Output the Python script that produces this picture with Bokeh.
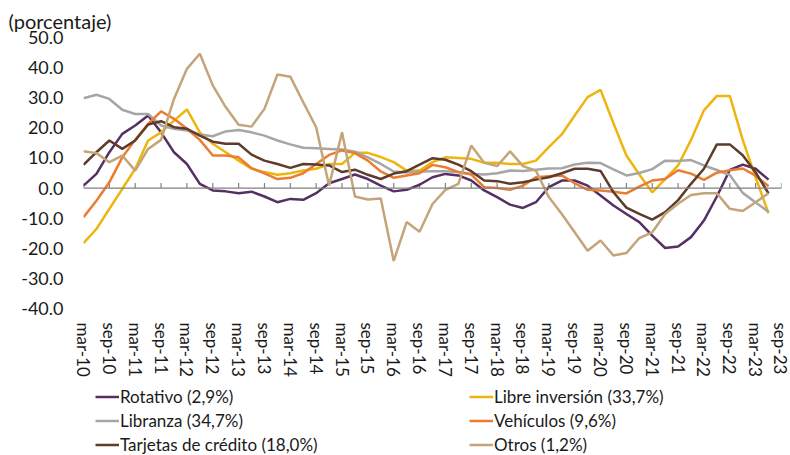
import numpy as np
from bokeh.plotting import figure
from bokeh.layouts import column
from bokeh.models import (Range1d, LinearAxis, FixedTicker, PrintfTickFormatter,
                          Legend, LegendItem, ColumnDataSource, Span)
from bokeh.embed import file_html
from bokeh.resources import INLINE

# ---------------- data (quarterly, mar-10 .. jun-23) ----------------
tick_labels = ["mar-10", "sep-10", "mar-11", "sep-11", "mar-12", "sep-12", "mar-13",
               "sep-13", "mar-14", "sep-14", "mar-15", "sep-15", "mar-16", "sep-16",
               "mar-17", "sep-17", "mar-18", "sep-18", "mar-19", "sep-19", "mar-20",
               "sep-20", "mar-21", "sep-21", "mar-22", "sep-22", "mar-23", "sep-23"]

rotativo = [0.8, 4.7, 11.9, 18.0, 20.8, 24.1, 18.5, 11.9, 8.0, 1.4,
            -0.8, -1.1, -1.7, -1.2, -2.8, -4.7, -3.6, -3.9, -1.7, 1.6,
            3.0, 4.5, 3.0, 0.8, -1.1, -0.6, 1.1, 3.6, 4.7, 4.2,
            2.5, -0.8, -3.0, -5.5, -6.6, -4.7, 0.3, 2.5, 2.5, 0.8,
            -2.5, -5.8, -8.6, -11.3, -15.8, -19.9, -19.4, -16.3, -10.8, -2.8,
            6.0, 7.8, 6.4, 2.8]
libre = [-18.3, -13.6, -6.9, -0.3, 6.4, 15.8, 18.5, 22.4, 26.1, 18.5,
         14.7, 11.9, 9.1, 6.4, 5.3, 4.4, 4.9, 5.8, 6.4, 8.0,
         8.0, 11.7, 11.7, 10.3, 8.6, 5.8, 5.8, 8.6, 10.2, 10.0,
         9.7, 8.4, 8.4, 8.0, 8.0, 9.1, 13.6, 17.8, 24.1, 30.2,
         32.6, 21.5, 10.8, 4.5, -1.4, 3.0, 7.5, 16.0, 25.8, 30.6,
         30.6, 16.0, 3.5, -8.4]
libranza = [29.8, 31.0, 29.6, 26.0, 24.6, 24.6, 20.8, 19.7, 19.1, 17.8,
            17.2, 18.8, 19.3, 18.5, 17.4, 15.8, 14.5, 13.4, 13.2, 13.0,
            12.8, 12.1, 10.2, 8.0, 5.5, 5.2, 5.5, 5.6, 5.6, 5.3,
            4.7, 4.5, 4.9, 5.8, 5.7, 6.1, 6.5, 6.6, 7.8, 8.4,
            8.3, 6.2, 4.2, 5.0, 6.3, 9.1, 9.0, 9.3, 7.5, 6.0,
            4.3, -1.6, -4.8, -7.9]
vehiculos = [-9.7, -4.2, 1.9, 10.2, 16.0, 21.3, 25.5, 23.0, 19.7, 16.0,
             10.8, 10.8, 10.2, 6.6, 4.9, 3.0, 3.4, 4.9, 8.0, 11.0,
             12.5, 11.6, 9.1, 5.5, 3.4, 4.2, 4.9, 7.7, 6.9, 5.3,
             4.5, 0.3, 0.0, -0.6, 0.8, 3.6, 3.9, 4.2, 1.6, -0.6,
             -0.8, -1.2, -1.8, 0.5, 2.5, 3.0, 5.9, 4.8, 2.7, 5.1,
             5.9, 6.5, 4.1, 0.6]
tarjetas = [7.7, 11.9, 15.8, 13.0, 15.8, 21.1, 22.2, 20.2, 19.7, 17.4,
            15.4, 14.7, 14.7, 11.1, 9.1, 8.0, 6.7, 8.0, 7.8, 7.5,
            5.3, 6.1, 4.4, 3.0, 4.8, 5.6, 7.8, 9.9, 9.4, 7.8,
            5.6, 2.5, 2.3, 1.4, 1.9, 2.8, 3.6, 4.9, 6.4, 6.4,
            5.7, -1.4, -6.5, -8.6, -10.5, -8.0, -4.0, 1.4, 6.4, 14.5,
            14.5, 10.9, 5.2, -1.8]
otros = [12.2, 11.6, 8.6, 10.8, 5.8, 13.0, 16.0, 29.6, 39.6, 44.6,
         34.1, 26.9, 21.0, 20.4, 26.3, 37.7, 37.0, 28.5, 20.2, 0.8,
         18.5, -2.8, -3.8, -3.5, -24.2, -11.3, -14.5, -5.3, -0.6, 1.4,
         14.1, 8.4, 7.3, 12.2, 7.3, 5.8, -3.0, -8.6, -14.7, -20.8,
         -17.4, -22.4, -21.6, -16.6, -14.7, -8.6, -5.2, -2.3, -1.7, -1.7,
         -6.9, -7.6, -4.7, -1.7]

series_labels = ["Rotativo (2,9%)", "Libre inversión (33,7%)", "Libranza (34,7%)",
                 "Vehículos (9,6%)", "Tarjetas de crédito (18,0%)", "Otros (1,2%)"]
series_values = [rotativo, libre, libranza, vehiculos, tarjetas, otros]
series_colors = ["#553063", "#EFB50F", "#A6A6A6", "#EC7C30", "#5E3B2A", "#C4A57A"]

y_ticks = [-40, -30, -20, -10, 0, 10, 20, 30, 40, 50]

FONT = "Lato"
TXT = "#1a1a1a"
AXIS_GRAY = "#808080"
n_cat = 2 * len(tick_labels) - 1  # 55 quarterly categories
Y_MIN, Y_MAX = -40, 50
FRAME_H = 271  # px
LINE_W = 2.5

# ---------------- main chart ----------------
p = figure(width=790, height=385, output_backend="svg", toolbar_location=None,
           x_range=Range1d(0, n_cat - 1), y_range=Range1d(Y_MIN, Y_MAX),
           x_axis_location=None,
           min_border_left=83, min_border_right=9, min_border_top=37,
           min_border_bottom=77)
p.outline_line_color = None
p.xgrid.visible = False
p.ygrid.visible = False

p.title.text = "(porcentaje)"
p.title.text_font = FONT
p.title.text_font_size = "20px"
p.title.text_font_style = "normal"
p.title.text_color = TXT
p.title.align = "left"
p.title.offset = -75
p.title.standoff = 9

yax = p.yaxis[0]
yax.ticker = FixedTicker(ticks=y_ticks)
yax.formatter = PrintfTickFormatter(format="%.1f")
yax.axis_line_color = None
yax.major_tick_line_color = None
yax.minor_tick_line_color = None
yax.major_tick_out = 0
yax.major_tick_in = 0
yax.major_label_standoff = 20
yax.major_label_text_font = FONT
yax.major_label_text_font_size = "18px"
yax.major_label_text_color = TXT

# zero line with small upward tick marks every semester
tick_pos = list(range(0, n_cat, 2))
p.add_layout(Span(location=0, dimension="width", line_color=AXIS_GRAY, line_width=1.2))
tick_len = 5 * (Y_MAX - Y_MIN) / FRAME_H
p.segment(x0=tick_pos, y0=[0] * len(tick_pos), x1=tick_pos,
          y1=[tick_len] * len(tick_pos), line_color=AXIS_GRAY, line_width=1.2)

# series lines
sources = []
for vals, col in zip(series_values, series_colors):
    src = ColumnDataSource(data=dict(x=list(range(len(vals))), y=vals))
    sources.append(src)
    p.line("x", "y", source=src, line_color=col, line_width=LINE_W)

# x tick labels (bottom)
xlab = LinearAxis(ticker=FixedTicker(ticks=tick_pos),
                  major_label_overrides={t: lab for t, lab in zip(tick_pos, tick_labels)},
                  major_label_orientation="vertical",
                  axis_line_color=None, major_tick_line_color=None,
                  minor_tick_line_color=None, major_tick_out=0, major_tick_in=0,
                  major_label_standoff=14, major_label_text_font=FONT,
                  major_label_text_font_size="17px", major_label_text_color=TXT)
p.add_layout(xlab, "below")

# ---------------- legend strip (two columns of three) ----------------
# the same series are drawn here outside the visible range, only to key the legend
pl = figure(width=790, height=70, output_backend="svg", toolbar_location=None,
            title=None, x_axis_location=None, y_axis_location=None,
            min_border=0, x_range=Range1d(0, n_cat - 1), y_range=Range1d(500, 501))
pl.outline_line_color = None
pl.xgrid.visible = False
pl.ygrid.visible = False
legend_renderers = [pl.line("x", "y", source=src, line_color=col, line_width=LINE_W)
                    for src, col in zip(sources, series_colors)]
order = [0, 2, 4, 1, 3, 5]
items = [LegendItem(label=series_labels[k], renderers=[legend_renderers[k]]) for k in order]
legend = Legend(items=items, orientation="vertical", ncols=2, location=(12, 0),
                padding=0, margin=0, border_line_color=None, background_fill_alpha=0,
                label_text_font=FONT, label_text_font_size="17px", label_text_color=TXT,
                glyph_width=24, glyph_height=21, label_height=21, label_standoff=1,
                label_width=346, spacing=3)
pl.add_layout(legend)

layout = column(p, pl, spacing=0)
open("out.html", "w").write(file_html(layout, INLINE))
